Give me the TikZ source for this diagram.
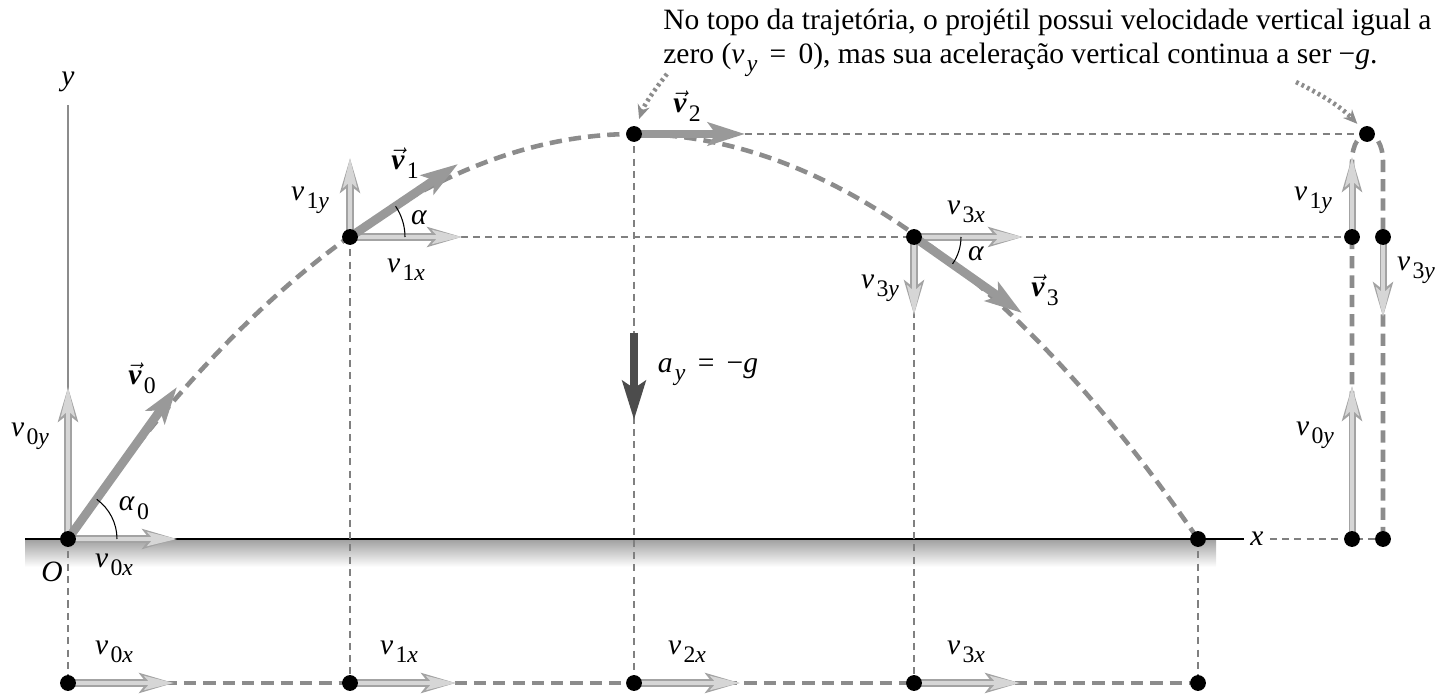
\documentclass[tikz,border=0pt]{standalone}
\usepackage{fontspec}
\setmainfont{Liberation Serif}
\usetikzlibrary{arrows.meta}

\newcommand{\sub}[1]{\kern0.08em\raisebox{-0.62ex}{\fontsize{13.5}{14}\selectfont #1}}
\newcommand{\cmp}[2]{\textit{#1}\sub{#2}}
\newcommand{\vvec}[1]{$\vec{\mbox{\bfseries\itshape v}}$\sub{#1}}

\begin{document}
\begin{tikzpicture}[x=0.02cm, y=-0.02cm,
  every node/.style={font=\fontsize{16.8}{19}\selectfont},
  dot/.style={circle, fill=black, inner sep=0pt, minimum size=9pt},
  trajdash/.style={draw=black!45, line width=2.6pt, dash pattern=on 7pt off 4pt},
  guide/.style={draw=black!50, line width=0.6pt, dash pattern=on 4pt off 3pt},
  mainvec/.style={draw=black!40, line width=5pt, -{Stealth[length=21pt,width=13pt,inset=4.5pt]}},
  compvec/.style={draw=black!16, line width=2.4pt, -{Stealth[length=17pt,width=8pt,inset=3.5pt]},
    preaction={draw=black!36, line width=4pt, -{Stealth[length=19.5pt,width=11pt,inset=4pt]}}},
  accvec/.style={draw=black!70, line width=4.8pt, -{Stealth[length=22pt,width=13pt,inset=4pt]}},
  pointer/.style={draw=black!45, line width=2.6pt, dash pattern=on 1.6pt off 1.9pt,
    -{Stealth[length=8pt,width=7pt]}},
  angarc/.style={draw=black, line width=0.6pt}]
  \useasboundingbox (0,0) rectangle (1447,695);

  % points of the flight
  \coordinate (O) at (68,539);
  \coordinate (P1) at (350,237);
  \coordinate (P2) at (634,134);
  \coordinate (P3) at (914,237);
  \coordinate (L) at (1198,539);
  % horizontal motion
  \coordinate (B0) at (68,683);
  \coordinate (B1) at (350,683);
  \coordinate (B2) at (634,683);
  \coordinate (B3) at (914,683);
  \coordinate (B4) at (1198,683);
  % vertical motion
  \coordinate (RT) at (1367,134);
  \coordinate (R1L) at (1352,237);
  \coordinate (R1R) at (1383,237);
  \coordinate (R0L) at (1352,539);
  \coordinate (R0R) at (1383,539);

  % ground and axes
  \shade[top color=black!35, bottom color=white] (25,541) rectangle (1216,567);
  \node (ylab) at (68,82) {\textit{y}};
  \node (xlab) at (1257,539) {\textit{x}};
  \node (Olab) at (52,572) {\textit{O}};
  \draw[line width=0.9pt] (25,539) -- (xlab.west);
  \draw[black!45, line width=1.1pt] (O) -- (68,105);

  % guide lines
  \draw[guide] (O) -- (B0);
  \draw[guide] (P1) -- (B1);
  \draw[guide] (P2) -- (B2);
  \draw[guide] (P3) -- (B3);
  \draw[guide] (L) -- (B4);
  \draw[guide] (P2) -- (RT);
  \draw[guide] (P1) -- (R1L);
  \draw[guide] (xlab.east) -- (R0R);

  % paths
  \draw[trajdash] (O) parabola bend (P2) (L);
  \draw[trajdash] (R0L) -- (1352,162) .. controls (1352,125) and (1383,125) .. (1383,162) -- (R0R);
  \draw[trajdash] (B0) -- (B4);

  % at the start
  \draw[compvec] (O) -- ++(109,0);
  \draw[compvec] (O) -- ++(0,-152);
  \draw[mainvec] (O) -- ++(109,-152);
  \draw[angarc] (117,539) arc[start angle=0, end angle=-54, radius=49];
  \node at (30,436) {\cmp{v}{0\textit{y}}};
  \node at (114,565) {\cmp{v}{0\textit{x}}};
  \node at (142,378) {\vvec{0}};
  \node at (134,508) {\cmp{α}{0}};

  % rising
  \draw[compvec] (P1) -- ++(112,0);
  \draw[compvec] (P1) -- ++(0,-79);
  \draw[mainvec] (P1) -- ++(108,-73);
  \draw[angarc] (405,237) arc[start angle=0, end angle=-34, radius=55];
  \node at (405,163) {\vvec{1}};
  \node at (310,200) {\cmp{v}{1\textit{y}}};
  \node at (406,270) {\cmp{v}{1\textit{x}}};
  \node at (419,218) {\textit{α}};

  % top
  \draw[mainvec] (P2) -- ++(111,0);
  \node at (687,106) {\vvec{2}};
  \draw[accvec] (634,333) -- ++(0,87);
  \node at (708,372) {\cmp{a}{\textit{y}} \,=\, −\textit{g}};

  % falling
  \draw[compvec] (P3) -- ++(109,0);
  \draw[compvec] (P3) -- ++(0,78);
  \draw[mainvec] (P3) -- ++(108,76);
  \draw[angarc] (961,237) arc[start angle=0, end angle=35, radius=47];
  \node at (966,212) {\cmp{v}{3\textit{x}}};
  \node at (880,288) {\cmp{v}{3\textit{y}}};
  \node at (1045,290) {\vvec{3}};
  \node at (976,254) {\textit{α}};

  % horizontal components
  \draw[compvec] (B0) -- ++(106,0);
  \draw[compvec] (B1) -- ++(106,0);
  \draw[compvec] (B2) -- ++(106,0);
  \draw[compvec] (B3) -- ++(106,0);
  \node at (114,652) {\cmp{v}{0\textit{x}}};
  \node at (399,652) {\cmp{v}{1\textit{x}}};
  \node at (687,652) {\cmp{v}{2\textit{x}}};
  \node at (966,652) {\cmp{v}{3\textit{x}}};

  % vertical components
  \draw[compvec] (R1L) -- ++(0,-80);
  \draw[compvec] (R1R) -- ++(0,80);
  \draw[compvec] (R0L) -- ++(0,-153);
  \node at (1313,200) {\cmp{v}{1\textit{y}}};
  \node at (1416,270) {\cmp{v}{3\textit{y}}};
  \node at (1315,435) {\cmp{v}{0\textit{y}}};

  % note
  \node[anchor=north west, align=left, inner sep=0pt] (note) at (663,9)
    {No topo da trajetória, o projétil possui velocidade vertical igual a\\
     zero (\cmp{v}{\textit{y}} \,=\, 0), mas sua aceleração vertical continua a ser −\textit{g}.};
  \coordinate (n1) at (667,74);
  \coordinate (n2) at (1296,82);
  \draw[pointer, shorten >=9pt] (n1) to[bend right=10] (P2);
  \draw[pointer, shorten >=8pt] (n2) to[bend left=10] (RT);

  % dots
  \foreach \p in {O,P1,P2,P3,L,B0,B1,B2,B3,B4,RT,R1L,R1R,R0L,R0R}
    \node[dot] (d\p) at (\p) {};
\end{tikzpicture}
\end{document}
